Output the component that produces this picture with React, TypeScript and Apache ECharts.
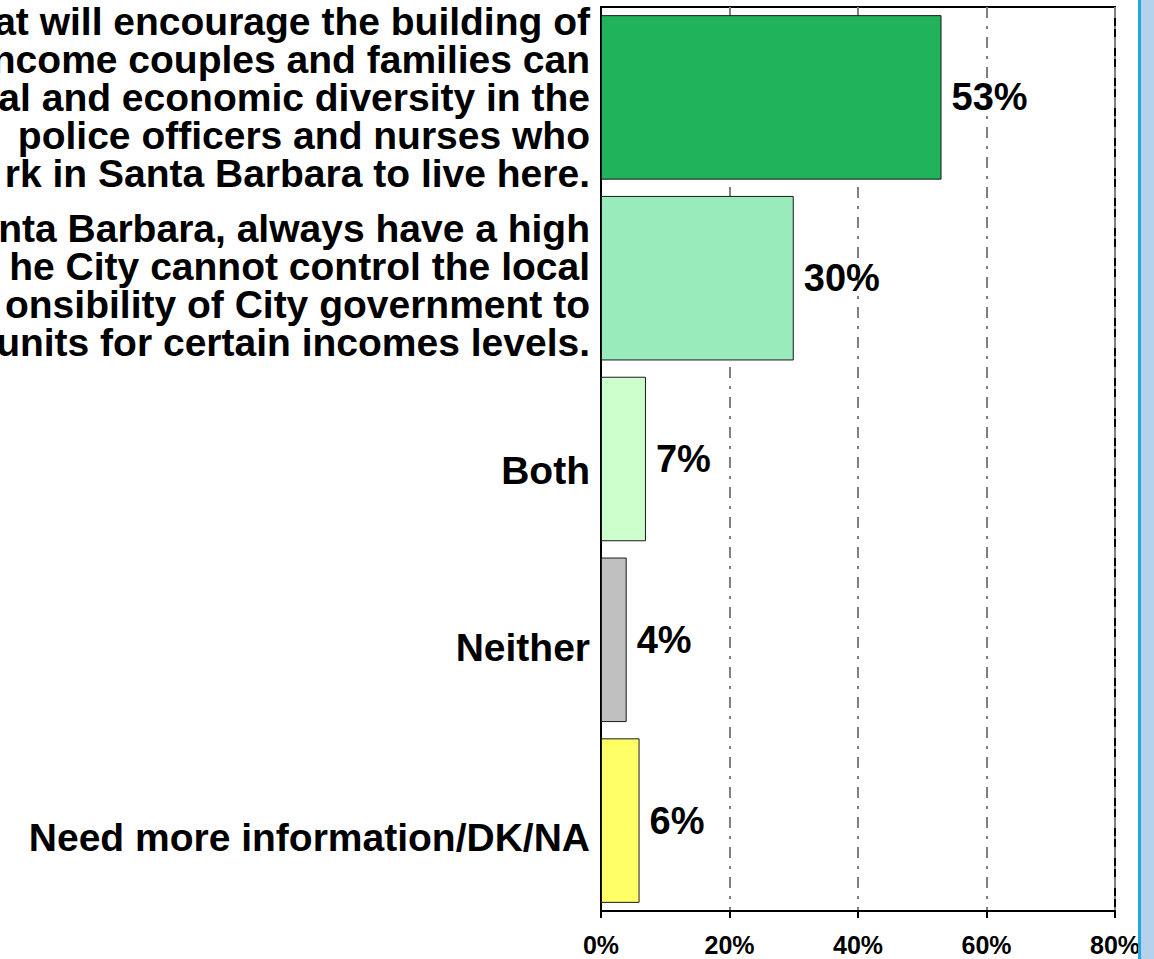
import React, { useEffect, useRef } from "react";
import * as echarts from "echarts";

const categories = [
  "at will encourage the building of\nncome couples and families can\nal and economic diversity in the\n police officers and nurses who\nrk in Santa Barbara to live here.",
  "nta Barbara, always have a high\nhe City cannot control the local\nonsibility of City government to\nunits for certain incomes levels.",
  "Both",
  "Neither",
  "Need more information/DK/NA",
];
const values = [53, 30, 7, 4, 6];
const barColors = ["#21B35B", "#99EBBB", "#CCFFCC", "#C0C0C0", "#FFFF66"];
const labelShift = [0, 7, 11, 8, 17];
const xTicks = { min: 0, max: 80, interval: 20 };

const FONT = "'Liberation Sans', Arial, sans-serif";

export default function App() {
  const ref = useRef<HTMLDivElement>(null);
  useEffect(() => {
    if (!ref.current) return;
    const chart = echarts.init(ref.current, null, { renderer: "svg" });
    chart.setOption({
      animation: false,
      backgroundColor: "#ffffff",
      grid: {
        left: 601,
        right: 39,
        top: 7,
        bottom: 48,
        show: true,
        borderColor: "#000000",
        borderWidth: 2,
        backgroundColor: "transparent",
      },
      xAxis: {
        type: "value",
        min: xTicks.min,
        max: xTicks.max,
        interval: xTicks.interval,
        axisLine: { show: true, lineStyle: { color: "#000000", width: 2 } },
        axisTick: { show: true, length: 7, lineStyle: { color: "#000000", width: 2 } },
        axisLabel: {
          formatter: "{value}%",
          fontFamily: FONT,
          fontWeight: "bold",
          fontSize: 25,
          color: "#000000",
          margin: 21,
        },
        splitLine: {
          show: true,
          lineStyle: { color: "#808080", width: 2, type: [11, 8, 3, 8] },
        },
      },
      yAxis: {
        type: "category",
        inverse: true,
        data: categories,
        axisLine: { show: true, lineStyle: { color: "#000000", width: 2 } },
        axisTick: { show: false },
        splitLine: { show: false },
        axisLabel: { show: false },
      },
      series: [
        {
          type: "bar",
          barCategoryGap: "9%",
          data: values.map((v, i) => ({
            value: v,
            itemStyle: { color: barColors[i], borderColor: "#1a1a1a", borderWidth: 1 },
          })),
          label: {
            show: true,
            position: "right",
            distance: 10,
            formatter: "{c}%",
            fontFamily: FONT,
            fontWeight: "bold",
            fontSize: 38,
            color: "#000000",
          },
        },
        {
          type: "scatter",
          symbolSize: 0,
          silent: true,
          clip: false,
          z: 5,
          itemStyle: { opacity: 1 },
          data: categories.map((c, i) => ({
            value: [0, i],
            label: { offset: [0, labelShift[i]] },
          })),
          label: {
            show: true,
            position: "left",
            distance: 11,
            align: "right",
            verticalAlign: "middle",
            formatter: (p: any) => categories[p.dataIndex],
            fontFamily: FONT,
            fontWeight: "bold",
            fontSize: 39,
            lineHeight: 38,
            color: "#000000",
            opacity: 1,
          },
        },
      ],
      graphic: [
        {
          type: "rect",
          z: 100,
          shape: { x: 1139, y: 0, width: 15, height: 959 },
          style: { fill: "#B4D2EC" },
        },
        {
          type: "rect",
          z: 101,
          shape: { x: 1138, y: 0, width: 3, height: 959 },
          style: { fill: "#22A6E0" },
        },
      ],
    });
    return () => chart.dispose();
  }, []);
  return (
    <div
      ref={ref}
      style={{ position: "absolute", left: 0, top: 0, width: 1154, height: 959 }}
    />
  );
}
